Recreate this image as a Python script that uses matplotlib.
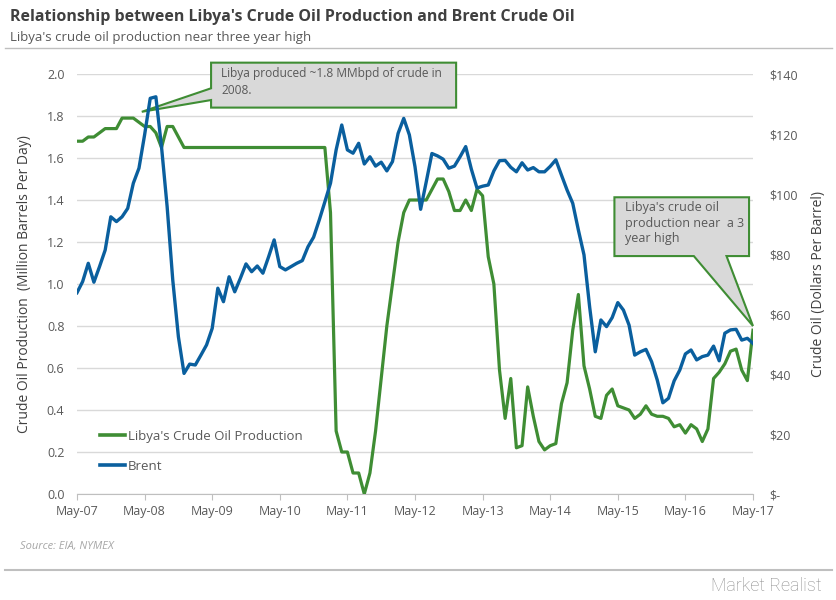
import numpy as np
import matplotlib.pyplot as plt
from matplotlib.patches import Polygon
from matplotlib.lines import Line2D

plt.rcParams['font.family'] = ['Open Sans', 'DejaVu Sans']

# Monthly data, May 2007 - May 2017
months = np.arange(121)

# Libya's crude oil production (million barrels per day)
libya = [1.68, 1.68, 1.70, 1.70, 1.72, 1.74, 1.74, 1.74, 1.79, 1.79,
         1.79, 1.77, 1.75, 1.75, 1.72, 1.65, 1.75, 1.75, 1.70, 1.65,
         1.65, 1.65, 1.65, 1.65, 1.65, 1.65, 1.65, 1.65, 1.65, 1.65,
         1.65, 1.65, 1.65, 1.65, 1.65, 1.65, 1.65, 1.65, 1.65, 1.65,
         1.65, 1.65, 1.65, 1.65, 1.65, 1.34, 0.30, 0.20, 0.20, 0.10,
         0.10, 0.00, 0.10, 0.30, 0.55, 0.80, 1.00, 1.20, 1.34, 1.40,
         1.40, 1.40, 1.40, 1.45, 1.50, 1.50, 1.44, 1.35, 1.35, 1.40,
         1.35, 1.45, 1.42, 1.13, 1.00, 0.59, 0.36, 0.55, 0.22, 0.23,
         0.51, 0.37, 0.25, 0.21, 0.23, 0.24, 0.43, 0.53, 0.78, 0.95,
         0.61, 0.50, 0.37, 0.36, 0.47, 0.50, 0.42, 0.41, 0.40, 0.36,
         0.38, 0.42, 0.38, 0.37, 0.37, 0.36, 0.32, 0.33, 0.29, 0.33,
         0.31, 0.25, 0.31, 0.55, 0.58, 0.62, 0.68, 0.69, 0.59, 0.54,
         0.78]

# Brent crude oil price (dollars per barrel)
brent = [67.1, 70.8, 76.9, 70.6, 75.8, 81.3, 92.4, 90.8, 92.4, 95.2,
         103.6, 108.6, 119.7, 131.9, 132.4, 115.8, 95.8, 71.3, 52.4, 40.2,
         43.3, 43.0, 46.3, 49.7, 55.2, 68.6, 64.1, 72.4, 67.4, 71.9,
         76.7, 74.1, 76.0, 73.6, 79.0, 84.7, 75.8, 74.7, 75.8, 76.9,
         77.8, 82.4, 85.6, 91.3, 97.4, 103.6, 114.7, 123.0, 114.7, 113.6,
         116.9, 110.0, 112.4, 109.3, 110.6, 107.7, 110.8, 120.2, 125.2, 119.7,
         109.1, 94.9, 104.1, 113.5, 112.7, 111.6, 108.6, 109.3, 112.4, 115.8,
         108.3, 102.0, 102.6, 103.0, 107.7, 111.1, 111.2, 108.9, 107.4, 110.4,
         108.0, 108.8, 107.4, 107.4, 109.2, 111.4, 106.3, 101.3, 96.9, 88.0,
         79.7, 62.4, 47.4, 58.0, 55.8, 58.8, 63.8, 61.3, 56.3, 46.3,
         47.4, 48.2, 44.1, 38.0, 30.4, 31.9, 37.7, 41.3, 46.7, 48.0,
         44.7, 45.8, 46.3, 49.3, 44.4, 53.6, 54.7, 54.9, 51.3, 51.9,
         50.2]

year_ticks = np.arange(0, 121, 12)
year_labels = ['May-07', 'May-08', 'May-09', 'May-10', 'May-11', 'May-12',
               'May-13', 'May-14', 'May-15', 'May-16', 'May-17']
left_ticks = np.round(np.arange(0, 2.01, 0.2), 1)
right_ticks = np.arange(0, 141, 20)
right_labels = ['$-'] + ['$%d' % v for v in right_ticks[1:]]

green = '#3f8d34'
blue = '#0a5f9e'
tick_col = '#595959'
grid_col = '#d9d9d9'

W, H = 837, 600
fig = plt.figure(figsize=(W / 100, H / 100), dpi=100)
ax = fig.add_axes([77 / W, 106 / H, 676 / W, 420 / H])
ax2 = ax.twinx()

ax.plot(months, libya, color=green, lw=2.3, zorder=3)
ax2.plot(months, brent, color=blue, lw=2.4, zorder=3)

ax.set_xlim(0, 120)
ax.set_ylim(0, 2.0)
ax2.set_ylim(0, 140)

ax.set_yticks(left_ticks)
ax.set_yticklabels(['%.1f' % v for v in left_ticks])
ax2.set_yticks(right_ticks)
ax2.set_yticklabels(right_labels)
ax.set_xticks(year_ticks)
ax.set_xticklabels(year_labels)

ax.yaxis.grid(True, color=grid_col, lw=1)
ax.set_axisbelow(True)
for s in ['top', 'left', 'right']:
    ax.spines[s].set_visible(False)
for s in ax2.spines.values():
    s.set_visible(False)
ax.spines['bottom'].set_color('#bfbfbf')

ax.tick_params(axis='y', length=0, labelcolor=tick_col, labelsize=9, pad=9)
ax2.tick_params(axis='y', length=0, labelcolor=tick_col, labelsize=9, pad=12)
ax.tick_params(axis='x', length=4, color='#bfbfbf', labelcolor=tick_col,
               labelsize=9, pad=4)

ax.set_ylabel('Crude Oil Production  (Million Barrels Per Day)',
              color='#404040', fontsize=10, labelpad=11)
ax2.set_ylabel('Crude Oil (Dollars Per Barrel)', color='#404040',
               fontsize=10, labelpad=9)

handles = [Line2D([], [], color=green, lw=2.6),
           Line2D([], [], color=blue, lw=2.6)]
ax2.legend(handles, ["Libya's Crude Oil Production", 'Brent'],
           loc='center left', bbox_to_anchor=(0.034, 0.102), frameon=False,
           fontsize=9.5, labelcolor=tick_col, handlelength=1.9,
           handletextpad=0.2, labelspacing=1.3, borderpad=0, borderaxespad=0)

# Callouts
box1 = [(23.8, 2.054), (67.3, 2.054), (67.3, 1.84), (23.8, 1.84),
        (23.8, 1.876), (11.5, 1.82), (23.8, 1.932)]
ax.add_patch(Polygon(box1, closed=True, facecolor='#d9d9d9', edgecolor=green,
                     lw=1.5, clip_on=False, zorder=5))
ax.text(25.6, 2.035, 'Libya produced ~1.8 MMbpd of crude in\n2008.',
        ha='left', va='top', fontsize=8.6, color='#595959', linespacing=1.45,
        zorder=6)

box2 = [(95.4, 1.413), (119.3, 1.413), (119.3, 1.133), (115.3, 1.133),
        (120.0, 0.80), (109.5, 1.133), (95.4, 1.133)]
ax.add_patch(Polygon(box2, closed=True, facecolor='#d9d9d9', edgecolor=green,
                     lw=1.5, clip_on=False, zorder=5))
ax.text(97.3, 1.395, "Libya's crude oil\nproduction near  a 3\nyear high",
        ha='left', va='top', fontsize=9, color='#595959', linespacing=1.25,
        zorder=6)

# Title block
fig.text(10 / W, 1 - 17 / H,
         "Relationship between Libya's Crude Oil Production and Brent Crude Oil",
         fontsize=11.5, fontweight='bold', color='#404040', va='center')
fig.text(10 / W, 1 - 37 / H, "Libya's crude oil production near three year high",
         fontsize=9.5, color='#595959', va='center')
fig.add_artist(Line2D([5 / W, 832 / W], [1 - 48 / H, 1 - 48 / H],
                      color='#bfbfbf', lw=1))

fig.text(20 / W, 1 - 547 / H, 'Source: EIA, NYMEX', fontsize=8,
         style='italic', color='#a6a6a6', va='center')
fig.add_artist(Line2D([5 / W, 832 / W], [1 - 570 / H, 1 - 570 / H],
                      color='#bfbfbf', lw=1.5))
fig.text(822 / W, 1 - 586 / H, 'Market Realist', fontsize=13,
         color='#8c8c8c', ha='right', va='center', family='Roboto',
         fontweight='light')

fig.savefig('out.png', dpi=100)
